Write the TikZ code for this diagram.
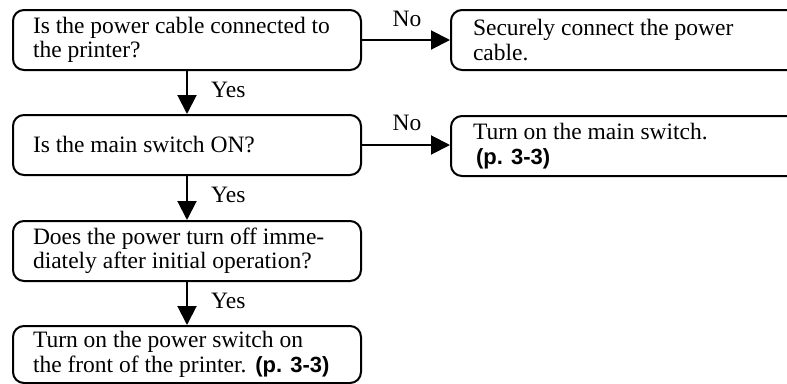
\documentclass[tikz,border=0pt]{standalone}
\usepackage{fontspec}
\setmainfont{Liberation Serif}
\newfontfamily\psans{Liberation Sans}
\usetikzlibrary{arrows.meta}
\newcommand{\pref}{{\psans\bfseries\fontsize{22}{24}\selectfont (p. 3-3)}}
\tikzset{
  box/.style={draw, line width=2pt, rounded corners=11pt, anchor=north west,
    minimum width=348pt, minimum height=60pt, text width=308pt,
    inner xsep=20pt, inner ysep=0pt, align=flush left,
    font=\fontsize{23.5}{24.5}\selectfont},
  rbox/.style={box, minimum width=360pt, text width=316pt, inner xsep=22pt},
  arr/.style={line width=2pt, -{Triangle[length=19pt,width=19pt]}},
  lbl/.style={font=\fontsize{23.5}{24.5}\selectfont, inner sep=0pt}
}
\begin{document}
\begin{tikzpicture}[x=1pt,y=-1pt]
\clip (0,0) rectangle (787,383);
\node[box] (b1) at (12,9) {Is the power cable connected to\\the printer?};
\node[rbox] (r1) at (450,9) {Securely connect the power\\cable.};
\node[box] (b3) at (12,114) {Is the main switch ON?};
\node[rbox] (r2) at (450,115) {Turn on the main switch.\\\hspace*{3pt}\pref};
\node[box] (b5) at (12,220) {Does the power turn off imme-\\diately after initial operation?};
\node[box, minimum height=57pt] (b6) at (12,325) {Turn on the power switch on\\the front of the printer.\hspace{9pt}\pref};

\draw[arr] (b1.south) -- (b3.north);
\draw[arr] (b3.south) -- (b5.north);
\draw[arr] (b5.south) -- (b6.north);
\draw[arr] (b1.east) -- (r1.west);
\draw[arr] (b3.east) -- (r2.west |- b3.east);

\node[lbl, anchor=base west] (y1) at ([xshift=24pt,yshift=-26pt]b1.south) {Yes};
\node[lbl, anchor=base west] (y2) at ([xshift=24pt,yshift=-26pt]b3.south) {Yes};
\node[lbl, anchor=base west] (y3) at ([xshift=24pt,yshift=-26pt]b5.south) {Yes};
\node[lbl, anchor=base] (n1) at ([xshift=45pt,yshift=14pt]b1.east) {No};
\node[lbl, anchor=base] (n2) at ([xshift=45pt,yshift=15pt]b3.east) {No};
\end{tikzpicture}
\end{document}
